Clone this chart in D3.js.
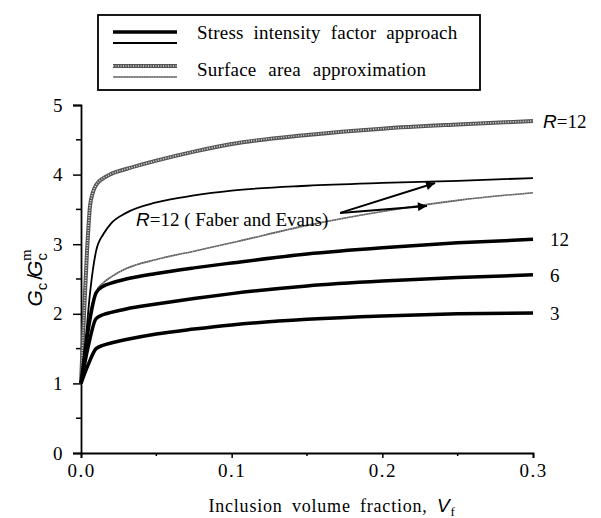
<!DOCTYPE html>
<html>
<head>
<meta charset="utf-8">
<script src="https://cdn.jsdelivr.net/npm/d3@7"></script>
<style>
  body { margin: 0; background: #fff; }
  svg text { font-family: "Liberation Serif", "DejaVu Serif", serif; }
  svg text .it { font-family: "Liberation Sans", "DejaVu Sans", sans-serif; font-style: italic; }
  svg text .sans { font-family: "Liberation Sans", "DejaVu Sans", sans-serif; }
</style>
</head>
<body>
<svg id="chart" width="601" height="518"></svg>
<script>
// volume fraction samples (x) for each curve
const xsTop = [0, 0.002, 0.004, 0.006, 0.008, 0.01, 0.015, 0.02, 0.03, 0.05, 0.075, 0.1, 0.15, 0.2, 0.25, 0.3];
const surfR12 = [1, 2.0, 2.9, 3.55, 3.75, 3.85, 3.95, 4.01, 4.08, 4.2, 4.33, 4.44, 4.57, 4.66, 4.72, 4.77];

const xsMid = [0, 0.003, 0.006, 0.01, 0.015, 0.02, 0.03, 0.05, 0.075, 0.1, 0.15, 0.2, 0.25, 0.3];
const sifFaber = [1, 1.6, 2.3, 2.9, 3.15, 3.3, 3.45, 3.6, 3.7, 3.77, 3.84, 3.88, 3.91, 3.95];

const xsLow = [0, 0.005, 0.01, 0.015, 0.02, 0.03, 0.05, 0.075, 0.1, 0.15, 0.2, 0.25, 0.3];
const surfFaber = [1, 1.9, 2.32, 2.45, 2.53, 2.65, 2.78, 2.9, 3.02, 3.27, 3.47, 3.63, 3.74];
const sifR12 = [1, 1.8, 2.3, 2.4, 2.44, 2.5, 2.58, 2.66, 2.73, 2.86, 2.95, 3.02, 3.07];
const sifR6 = [1, 1.55, 1.93, 1.99, 2.02, 2.07, 2.14, 2.22, 2.29, 2.4, 2.47, 2.52, 2.56];
const sifR3 = [1, 1.28, 1.5, 1.55, 1.58, 1.63, 1.71, 1.78, 1.84, 1.92, 1.97, 2.0, 2.01];

const xTicks = [0, 0.1, 0.2, 0.3];
const yTicks = [0, 1, 2, 3, 4, 5];

// annotation: label start and arrow tail / tips, in data units
const faberLabel = [0.0365, 3.26];
const arrowTail = [0.172, 3.45];
const arrowTips = [[0.235, 3.88], [0.2296, 3.55]];

const svg = d3.select('#chart');
const x = d3.scaleLinear().domain([0, 0.3]).range([81, 533]);
const y = d3.scaleLinear().domain([0, 5]).range([453, 105]);

const defs = svg.append('defs');
defs.append('marker')
  .attr('id', 'head')
  .attr('viewBox', '0 0 10 10')
  .attr('refX', 10).attr('refY', 5)
  .attr('markerWidth', 18).attr('markerHeight', 9)
  .attr('markerUnits', 'userSpaceOnUse')
  .attr('orient', 'auto')
  .append('path')
  .attr('d', 'M0,0 L10,5 L0,10 Z')
  .attr('fill', '#000');

// axes
const xAxis = d3.axisBottom(x).tickValues(xTicks).tickFormat(d3.format('.1f')).tickSize(5).tickPadding(6);
const yAxis = d3.axisLeft(y).tickValues(yTicks).tickFormat(d3.format('d')).tickSize(8).tickPadding(9);

const gx = svg.append('g').attr('transform', `translate(0,${y(0)})`).call(xAxis);
const gy = svg.append('g').attr('transform', `translate(${x(0)},0)`).call(yAxis);

// minor ticks
svg.append('g').selectAll('line')
  .data(d3.range(0.05, 0.3, 0.1))
  .join('line')
  .attr('x1', d => x(d)).attr('x2', d => x(d))
  .attr('y1', y(0)).attr('y2', y(0) + 3)
  .attr('stroke', '#000').attr('stroke-width', 1.5);
svg.append('g').selectAll('line')
  .data(d3.range(0.5, 5, 1))
  .join('line')
  .attr('x1', x(0) - 5).attr('x2', x(0))
  .attr('y1', d => y(d)).attr('y2', d => y(d))
  .attr('stroke', '#000').attr('stroke-width', 1.5);

[gx, gy].forEach(g => {
  g.attr('font-family', null);
  g.select('.domain').attr('stroke-width', 1.8);
  g.selectAll('.tick line').attr('stroke-width', 1.5);
  g.selectAll('.tick text')
    .style('font-family', '"Liberation Serif", serif')
    .attr('font-size', 19)
    .attr('letter-spacing', 1.5)
    .attr('fill', '#000');
});

// curves
const line = d3.line().x(d => x(d[0])).y(d => y(d[1])).curve(d3.curveMonotoneX);
const pts = (xs, ys) => xs.map((v, i) => [v, ys[i]]);

function hatched(data, w) {
  svg.append('path').attr('d', line(data)).attr('fill', 'none')
    .attr('stroke', '#555').attr('stroke-width', w);
  svg.append('path').attr('d', line(data)).attr('fill', 'none')
    .attr('stroke', '#ddd').attr('stroke-width', w * 0.4)
    .attr('stroke-dasharray', '1,1.5');
}

hatched(pts(xsTop, surfR12), 4);
hatched(pts(xsLow, surfFaber), 1.6);

svg.append('path').attr('d', line(pts(xsMid, sifFaber))).attr('fill', 'none')
  .attr('stroke', '#000').attr('stroke-width', 1.8);
[sifR12, sifR6, sifR3].forEach(ys => {
  svg.append('path').attr('d', line(pts(xsLow, ys))).attr('fill', 'none')
    .attr('stroke', '#000').attr('stroke-width', 3.5);
});

// end labels
const endLabels = [
  { v: surfR12[surfR12.length - 1], t: '=12', r: true },
  { v: sifR12[sifR12.length - 1], t: '12' },
  { v: sifR6[sifR6.length - 1], t: '6' },
  { v: sifR3[sifR3.length - 1], t: '3' }
];
endLabels.forEach(d => {
  const t = svg.append('text')
    .attr('x', x(0.3) + (d.r ? 10 : 17))
    .attr('y', y(d.v) + 7)
    .attr('font-size', 19);
  if (d.r) t.append('tspan').attr('class', 'it').text('R');
  t.append('tspan').text(d.t);
});

// Faber and Evans annotation
const fl = svg.append('text')
  .attr('x', x(faberLabel[0])).attr('y', y(faberLabel[1]))
  .attr('font-size', 19);
fl.append('tspan').attr('class', 'it').text('R');
fl.append('tspan').text('=12 ( Faber and Evans)');

arrowTips.forEach(tip => {
  svg.append('line')
    .attr('x1', x(arrowTail[0])).attr('y1', y(arrowTail[1]))
    .attr('x2', x(tip[0])).attr('y2', y(tip[1]))
    .attr('stroke', '#000').attr('stroke-width', 2)
    .attr('marker-end', 'url(#head)');
});

// axis titles
svg.append('text')
  .attr('x', 332).attr('y', 512)
  .attr('text-anchor', 'middle')
  .attr('font-size', 18)
  .attr('word-spacing', 4)
  .attr('letter-spacing', 0.8)
  .call(t => {
    t.append('tspan').text('Inclusion volume fraction, ');
    t.append('tspan').attr('class', 'it').attr('font-size', 19).text('V');
    t.append('tspan').attr('font-size', 13).attr('dy', 4).text('f');
  });

svg.append('text')
  .attr('transform', 'translate(42,278) rotate(-90)')
  .attr('text-anchor', 'middle')
  .attr('font-size', 21)
  .call(t => {
    t.append('tspan').attr('class', 'it').text('G');
    t.append('tspan').attr('class', 'sans').attr('font-size', 15).attr('dy', 5).text('c');
    t.append('tspan').attr('class', 'sans').attr('dy', -5).attr('dx', 3).text('/');
    t.append('tspan').attr('class', 'it').attr('dx', -3).text('G');
    t.append('tspan').attr('class', 'sans').attr('font-size', 15).attr('dy', 5).text('c');
    t.append('tspan').attr('font-size', 15).attr('dx', -8).attr('dy', -16).text('m');
  });

// legend
const lg = svg.append('g');
lg.append('rect').attr('x', 98).attr('y', 15).attr('width', 382).attr('height', 75)
  .attr('fill', 'none').attr('stroke', '#000').attr('stroke-width', 1.8);
const lx = [0, 1];
const lsx = d3.scaleLinear().domain([0, 1]).range([113, 177]);
const legendLine = (yy, w, color) => lg.append('line')
  .attr('x1', lsx(lx[0])).attr('x2', lsx(lx[1])).attr('y1', yy).attr('y2', yy)
  .attr('stroke', color).attr('stroke-width', w);
legendLine(32, 3.5, '#000');
legendLine(43, 1.8, '#000');
legendLine(66, 4, '#555');
legendLine(66, 1.6, '#ddd').attr('stroke-dasharray', '1,1.5');
legendLine(77, 1.6, '#555');
legendLine(77, 0.6, '#ddd').attr('stroke-dasharray', '1,1.5');
lg.append('text').attr('x', 197).attr('y', 39).attr('font-size', 19).attr('word-spacing', 5)
  .attr('letter-spacing', 0.2)
  .text('Stress intensity factor approach');
lg.append('text').attr('x', 197).attr('y', 76).attr('font-size', 19).attr('word-spacing', 7)
  .attr('letter-spacing', 0.2)
  .text('Surface area approximation');
</script>
</body>
</html>
